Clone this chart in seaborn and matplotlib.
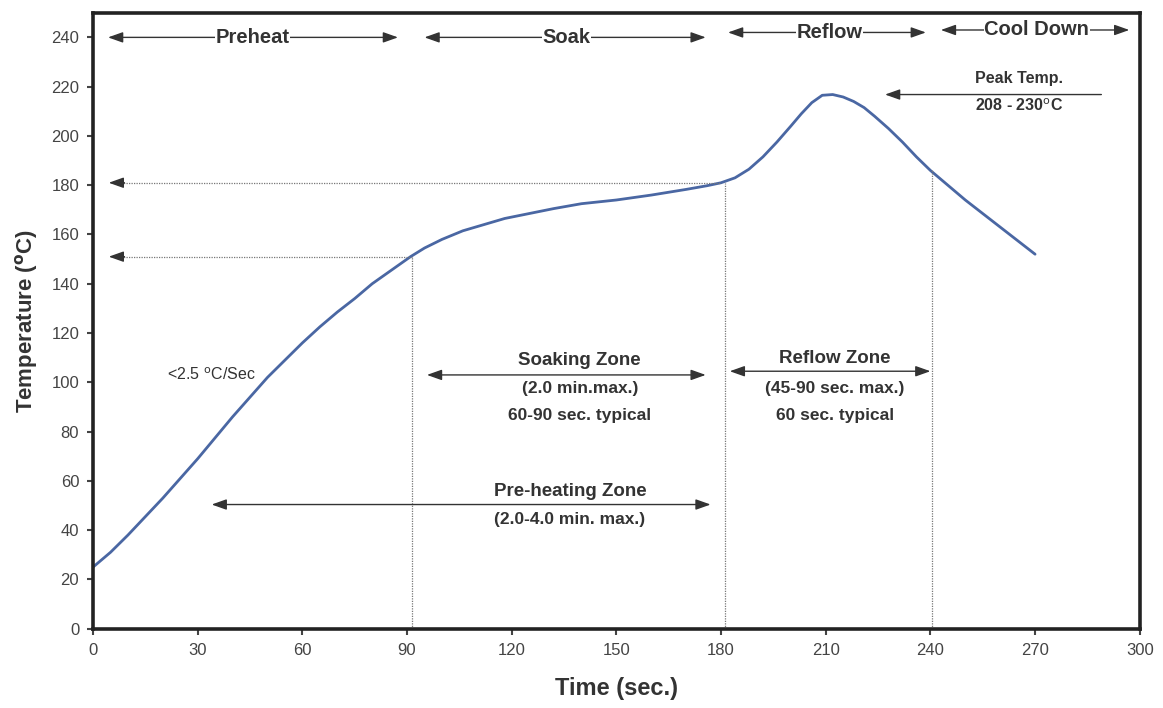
import matplotlib
matplotlib.use("Agg")
import matplotlib.pyplot as plt
import pandas as pd
import seaborn as sns

# reflow profile
time_s = [0, 5, 10, 15, 20, 25, 30, 35, 40, 45, 50, 55, 60, 65, 70, 75, 80,
          85, 91, 95, 100, 106, 112, 118, 125, 132, 140, 150, 160, 170, 176,
          180, 184, 188, 192, 196, 200, 203, 206, 209, 212, 215, 218, 221,
          224, 228, 232, 236, 240, 250, 260, 270]
temp_c = [25, 31, 38, 45.5, 53, 61, 69, 77.5, 86, 94, 102, 109, 116, 122.5,
          128.5, 134, 140, 145, 151, 154.5, 158, 161.5, 164, 166.5, 168.5,
          170.5, 172.5, 174, 176, 178.3, 179.8, 181, 183, 186.5, 191.5,
          197.5, 204, 209, 213.5, 216.5, 216.8, 215.8, 214, 211.5, 208, 203,
          197.5, 191.5, 186, 174, 163, 152]

x_ticks = list(range(0, 301, 30))
y_ticks = list(range(0, 241, 20))

zone_names = ["Preheat", "Soak", "Reflow", "Cool Down"]

# boundaries of the zones (sec.) and temperature marks (C)
soak_start, reflow_start, reflow_end = 91.5, 181, 240.5
soak_temp, reflow_temp, cool_temp = 151, 181, 186.5

INK = "#333333"


def double_arrow(ax, x0, x1, y, lw=1.0):
    ax.annotate("", xy=(x1, y), xytext=(x0, y),
                arrowprops=dict(arrowstyle="<|-|>,head_length=0.9,head_width=0.32",
                                color=INK, lw=lw, shrinkA=0, shrinkB=0))


def left_arrow(ax, x0, x1, y, lw=1.0):
    ax.annotate("", xy=(x1, y), xytext=(x0, y),
                arrowprops=dict(arrowstyle="-|>,head_length=0.9,head_width=0.32",
                                color=INK, lw=lw, shrinkA=0, shrinkB=0))


def main():
    sns.set_style("ticks")
    plt.rcParams["font.family"] = ["Liberation Sans", "DejaVu Sans"]

    df = pd.DataFrame({"Time": time_s, "Temp": temp_c})

    fig = plt.figure(figsize=(11.63, 7.08), dpi=100)
    ax = fig.add_axes([0.080, 0.112, 0.900, 0.870])

    sns.lineplot(data=df, x="Time", y="Temp", ax=ax, color="#4a67a3", lw=2)

    ax.set_xlim(0, 300)
    ax.set_ylim(0, 250)
    ax.set_xticks(x_ticks)
    ax.set_yticks(y_ticks)
    ax.tick_params(labelsize=12, colors="#444444", length=4, width=1.5,
                   pad=6)
    for s in ax.spines.values():
        s.set_linewidth(2.6)
        s.set_color("#222222")

    ax.set_xlabel("Time (sec.)", fontsize=17, fontweight="bold",
                  color=INK, labelpad=14)
    ax.set_ylabel(r"Temperature ($^{\mathbf{o}}$C)", fontsize=16,
                  fontweight="bold", color=INK, labelpad=8)

    # dotted guides
    dot = dict(color="#777777", lw=0.9, ls=(0, (1, 1)))
    ax.plot([soak_start, soak_start], [0, soak_temp], **dot)
    ax.plot([reflow_start, reflow_start], [0, reflow_temp], **dot)
    ax.plot([reflow_end, reflow_end], [0, cool_temp], **dot)
    ax.plot([8, soak_start], [soak_temp, soak_temp], **dot)
    ax.plot([8, reflow_start - 1], [reflow_temp, reflow_temp], **dot)
    left_arrow(ax, 9, 4.5, soak_temp)
    left_arrow(ax, 9, 4.5, reflow_temp)

    # zone headers along the top
    spans = [(4.3, 87.4, 45.6, 240), (95, 175.6, 135.8, 240),
             (182, 238.7, 211, 242), (243, 297, 270.5, 243)]
    for name, (x0, x1, xc, y) in zip(zone_names, spans):
        double_arrow(ax, x0, x1, y)
        ax.text(xc, y, name, ha="center", va="center", fontsize=14.5,
                fontweight="bold", color=INK,
                bbox=dict(fc="white", ec="none", pad=0.5))

    # peak temperature note
    left_arrow(ax, 289, 227, 216.8)
    ax.text(265.5, 220.3, "Peak Temp.", ha="center", va="bottom",
            fontsize=11.5, fontweight="bold", color=INK)
    ax.text(265.5, 215.8, r"208 - 230$^{\mathrm{o}}$C", ha="center",
            va="top", fontsize=11.5, fontweight="bold", color=INK)

    # soaking zone
    double_arrow(ax, 95.7, 175.6, 103)
    ax.text(139.5, 109, "Soaking Zone", ha="center", va="center",
            fontsize=13.5, fontweight="bold", color=INK)
    ax.text(139.5, 97.5, "(2.0 min.max.)", ha="center", va="center",
            fontsize=12.5, fontweight="bold", color=INK)
    ax.text(139.5, 86.6, "60-90 sec. typical", ha="center", va="center",
            fontsize=12.5, fontweight="bold", color=INK)

    # reflow zone
    double_arrow(ax, 182.5, 240, 104.5)
    ax.text(212.6, 109.5, "Reflow Zone", ha="center", va="center",
            fontsize=13.5, fontweight="bold", color=INK)
    ax.text(212.6, 97.5, "(45-90 sec. max.)", ha="center", va="center",
            fontsize=12.5, fontweight="bold", color=INK)
    ax.text(212.6, 86.6, "60 sec. typical", ha="center", va="center",
            fontsize=12.5, fontweight="bold", color=INK)

    # pre-heating zone
    double_arrow(ax, 34, 177, 50.4)
    ax.text(136.7, 55.8, "Pre-heating Zone", ha="center", va="center",
            fontsize=13.5, fontweight="bold", color=INK)
    ax.text(136.7, 44.3, "(2.0-4.0 min. max.)", ha="center", va="center",
            fontsize=12.5, fontweight="bold", color=INK)

    ax.text(34, 103, r"<2.5 $^{\mathrm{o}}$C/Sec", ha="center",
            va="center", fontsize=11.5, color=INK)

    plt.savefig("out.png", dpi=100)


if __name__ == "__main__":
    main()
